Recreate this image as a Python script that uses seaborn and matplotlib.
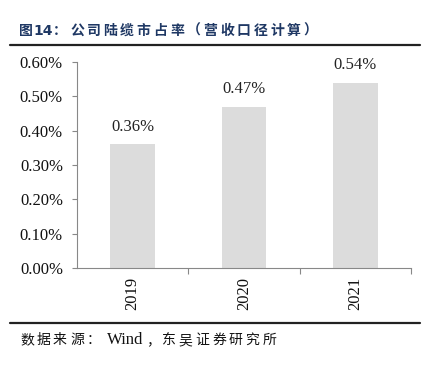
import matplotlib
matplotlib.use("Agg")
import matplotlib.pyplot as plt
import seaborn as sns
import pandas as pd
from matplotlib.lines import Line2D
from matplotlib.ticker import FuncFormatter, MultipleLocator

years = ["2019", "2020", "2021"]
share = [0.0036, 0.0047, 0.0054]
title = "图14：公司陆缆市占率（营收口径计算）"
source = "数据来源：Wind，东吴证券研究所"

sns.set_style("white")
plt.rcParams['font.family'] = ['Liberation Serif', 'Noto Sans CJK SC']

df = pd.DataFrame({"year": years, "share": share})

W, H = 428, 366
fig = plt.figure(figsize=(W/100, H/100), dpi=100)
ax = fig.add_axes([77/W, 1-268/H, (411-77)/W, (268-62)/H])

sns.barplot(data=df, x="year", y="share", color="#dcdcdc", width=0.4,
            saturation=1, ax=ax, edgecolor="none")

ax.set_xlim(-0.5, 2.5)
ax.set_ylim(0, 0.006)
ax.yaxis.set_major_locator(MultipleLocator(0.001))
ax.yaxis.set_major_formatter(FuncFormatter(lambda v, p: f"{v*100:.2f}%"))
ax.set_xlabel("")
ax.set_ylabel("")

for i, v in enumerate(share):
    ax.annotate(f"{v*100:.2f}%", (i, v), xytext=(0, 7), textcoords="offset points",
                ha="center", va="bottom", fontsize=12, color="#222222")

for s in ["top", "right"]:
    ax.spines[s].set_visible(False)
for s in ["left", "bottom"]:
    ax.spines[s].set_color("#888888")
    ax.spines[s].set_linewidth(0.8)

ax.set_xticks([0, 1, 2])
ax.set_xticklabels(years, rotation=90, fontsize=12, color="#111111")
ax.tick_params(axis="x", length=0, pad=6.5)
ax.tick_params(axis="y", left=True, length=3.6, width=0.8, color="#888888",
               labelsize=12, labelcolor="#111111", pad=6.5)
ax.set_xticks([0.5, 1.5, 2.5], minor=True)
ax.tick_params(axis="x", which="minor", bottom=True, length=4, width=0.8, color="#888888")


def split_segments(s):
    segs = []
    i = 0
    while i < len(s):
        if s[i].isascii():
            j = i
            while j < len(s) and s[j].isascii():
                j += 1
            segs.append(s[i:j])
            i = j
        else:
            segs.append(s[i])
            i += 1
    return segs


def place(s, y, starts, adv, cjk_kw, ascii_kw):
    # starts: explicit x for the first few segments; later ones advance by adv
    segs = split_segments(s)
    x = None
    for k, seg in enumerate(segs):
        if k < len(starts):
            x = starts[k]
        else:
            x = x + adv
        kw = ascii_kw if seg.isascii() else cjk_kw
        fig.text(x/W, 1-y/H, seg, va="center", ha="left", **kw)


place(title, 31, [19, 33, 53, 70], 16.7,
      dict(fontsize=10, fontweight="bold", color="#1f3864",
           family=["Noto Sans CJK SC", "DejaVu Sans"]),
      dict(fontsize=10, fontweight="bold", color="#1f3864", family="DejaVu Sans"))

fig.add_artist(Line2D([10/W, 420/W], [1-45/H, 1-45/H], color="#222222", lw=1.6,
                      transform=fig.transFigure))
fig.add_artist(Line2D([10/W, 420/W], [1-323/H, 1-323/H], color="#222222", lw=1.6,
                      transform=fig.transFigure))

place(source, 340, [20, 37, 53, 70, 87, 107, 146, 162], 16.7,
      dict(fontsize=10, color="#111111", family=["Noto Sans CJK SC", "DejaVu Sans"]),
      dict(fontsize=12, color="#111111", family="Liberation Serif"))

fig.savefig("out.png", dpi=100)
